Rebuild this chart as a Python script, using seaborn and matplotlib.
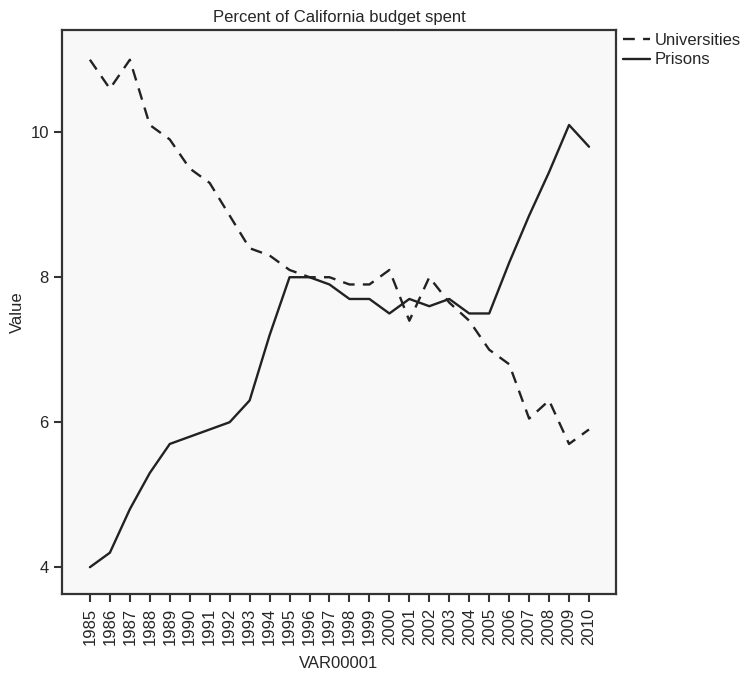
import matplotlib
matplotlib.use("Agg")
import matplotlib.pyplot as plt
import seaborn as sns
import pandas as pd

years = list(range(1985, 2011))
universities = [11.0, 10.6, 11.0, 10.1, 9.9, 9.5, 9.3, 8.85, 8.4, 8.3, 8.1, 8.0, 8.0, 7.9,
                7.9, 8.1, 7.4, 8.0, 7.65, 7.4, 7.0, 6.8, 6.05, 6.3, 5.7, 5.9]
prisons = [4.0, 4.2, 4.8, 5.3, 5.7, 5.8, 5.9, 6.0, 6.3, 7.2, 8.0, 8.0, 7.9, 7.7,
           7.7, 7.5, 7.7, 7.6, 7.7, 7.5, 7.5, 8.2, 8.85, 9.45, 10.1, 9.8]
series_names = ["Universities", "Prisons"]

df = pd.DataFrame({
    "VAR00001": years * 2,
    "Value": universities + prisons,
    "series": [series_names[0]] * len(years) + [series_names[1]] * len(years),
})

sns.set_style("ticks")
plt.rcParams["font.family"] = ["Liberation Sans", "DejaVu Sans"]

fig = plt.figure(figsize=(7.52, 6.82), dpi=100)
ax = fig.add_axes([0.0824, 0.129, 0.7367, 0.827])
ax.set_facecolor("#f8f8f8")

line_col = "#222222"
sns.lineplot(data=df, x="VAR00001", y="Value", style="series", style_order=series_names,
             dashes={"Universities": (5, 3.5), "Prisons": ""}, color=line_col,
             linewidth=1.7, ax=ax)

ax.set_xlim(1983.6, 2011.35)
ax.set_ylim(3.63, 11.41)
ax.set_xticks(years)
ax.set_xticklabels([str(y) for y in years], rotation=90, fontsize=12)
ax.set_yticks([4, 6, 8, 10])
ax.set_yticklabels(["4", "6", "8", "10"], fontsize=12)
ax.tick_params(direction="out", length=6, width=1.5, color="#333333")
ax.tick_params(axis="x", pad=4)

for s in ax.spines.values():
    s.set_visible(True)
    s.set_color("#333333")
    s.set_linewidth(1.6)

ax.set_title("Percent of California budget spent", fontsize=12, pad=6)
ax.set_xlabel("VAR00001", fontsize=12, labelpad=8)
ax.set_ylabel("Value", fontsize=12)

ax.legend(loc="upper left", bbox_to_anchor=(0.995, 1.012), frameon=False, fontsize=12,
          handlelength=1.6, handletextpad=0.3, labelspacing=0.25, borderaxespad=0.2)

fig.savefig("out.png", dpi=100, facecolor="white")
